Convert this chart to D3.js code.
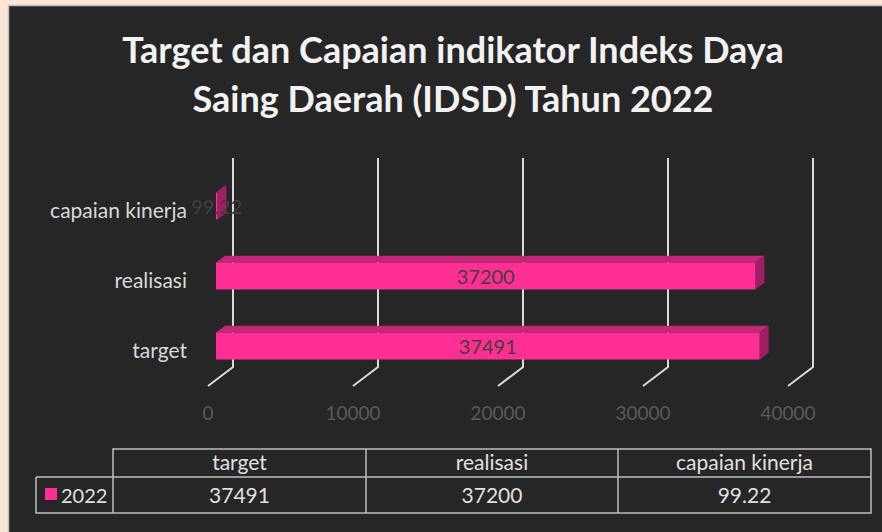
<!DOCTYPE html>
<html>
<head>
<meta charset="utf-8">
<script src="https://cdn.jsdelivr.net/npm/d3@7"></script>
<style>
  html, body { margin: 0; padding: 0; background: #FBE5D6; }
  svg { display: block; }
  text { font-family: Lato, "Open Sans", sans-serif; }
</style>
</head>
<body>
<div id="chart"></div>
<script>
// chart data
var categories = ["capaian kinerja", "realisasi", "target"];
var values = [99.22, 37200, 37491];
var tableCols = ["target", "realisasi", "capaian kinerja"];
var tableVals = ["37491", "37200", "99.22"];
var seriesName = "2022";
var xTicks = [0, 10000, 20000, 30000, 40000];
var titleLines = ["Target dan Capaian indikator Indeks Daya", "Saing Daerah (IDSD) Tahun 2022"];

var svgWidth = 882;
var svgHeight = 532;

// 3d depth of floor (front -> back)
var depthX = 25, depthY = -19;
var floorFrontX = 208;   // x of value 0 on the front floor edge
var floorFrontY = 386;
var barNear = 0.32, barFar = 0.68; // bar position inside depth
var barH = 27;

var pink = "#FF2E93", pinkTop = "#C42678", pinkSide = "#A01E63";

var svg = d3.select("#chart")
  .append("svg")
  .attr("width", svgWidth)
  .attr("height", svgHeight);

// chart area
svg.append("rect")
  .attr("x", 8.5).attr("y", 5.5)
  .attr("width", svgWidth).attr("height", svgHeight)
  .attr("fill", "#262626")
  .attr("stroke", "#BFBFBF")
  .attr("stroke-width", 1.5);

// title
svg.append("text")
  .attr("x", 453).attr("y", 63)
  .attr("text-anchor", "middle")
  .attr("fill", "#F2F2F2")
  .style("font-size", "36px")
  .style("font-weight", "bold")
  .selectAll("tspan")
  .data(titleLines)
  .enter()
  .append("tspan")
  .attr("x", 453)
  .attr("dy", (d, i) => i === 0 ? 0 : 49)
  .text(d => d);

var xScale = d3.scaleLinear()
  .domain([0, 40000])
  .range([0, 580]);

var yScale = d3.scalePoint()
  .domain(categories)
  .range([206, 346]);

// gridlines (back wall + floor diagonal)
var wallTop = 158;
var grid = svg.append("g");
xTicks.forEach(function(t) {
  var fx = floorFrontX + xScale(t);
  var bx = fx + depthX, by = floorFrontY + depthY;
  grid.append("path")
    .attr("d", `M${fx},${floorFrontY}L${bx},${by}L${bx},${wallTop}`)
    .attr("fill", "none")
    .attr("stroke", "#D9D9D9")
    .attr("stroke-width", 2);
});

// tick labels
svg.append("g").selectAll("text")
  .data(xTicks)
  .enter()
  .append("text")
  .attr("x", d => floorFrontX + xScale(d))
  .attr("y", 420)
  .attr("text-anchor", "middle")
  .attr("fill", "#595959")
  .style("font-size", "19px")
  .text(d => d);

// bars
var nx = depthX * barNear, ny = depthY * barNear;
var dx = depthX * (barFar - barNear), dy = depthY * (barFar - barNear);
var barData = categories.map((c, i) => ({ cat: c, value: values[i] }));

var bars = svg.append("g").selectAll("g")
  .data(barData)
  .enter()
  .append("g");

bars.each(function(d) {
  var g = d3.select(this);
  var x0 = floorFrontX + nx;
  var x1 = x0 + xScale(d.value);
  var y0 = yScale(d.cat) - barH / 2;
  var y1 = y0 + barH;
  // top face
  g.append("path")
    .attr("d", `M${x0},${y0}L${x0 + dx},${y0 + dy}L${x1 + dx},${y0 + dy}L${x1},${y0}Z`)
    .attr("fill", pinkTop);
  // side face
  g.append("path")
    .attr("d", `M${x1},${y0}L${x1 + dx},${y0 + dy}L${x1 + dx},${y1 + dy}L${x1},${y1}Z`)
    .attr("fill", pinkSide);
  // front face
  g.append("rect")
    .attr("x", x0).attr("y", y0)
    .attr("width", x1 - x0).attr("height", barH)
    .attr("fill", pink);
});

// category labels
svg.append("g").selectAll("text")
  .data(categories)
  .enter()
  .append("text")
  .attr("x", 187)
  .attr("y", d => yScale(d) + 12)
  .attr("text-anchor", "end")
  .attr("fill", "#D9D9D9")
  .style("font-size", "21px")
  .text(d => d);

// data labels
svg.append("g").selectAll("text")
  .data(barData)
  .enter()
  .append("text")
  .attr("x", d => floorFrontX + nx + xScale(d.value) / 2)
  .attr("y", d => yScale(d.cat) + 7.5)
  .attr("text-anchor", "middle")
  .attr("fill", "#404040")
  .style("font-size", "20px")
  .text(d => d.value);

// data table
var colX = [113, 366, 618, 871];
var headTop = 449, rowTop = 477, rowBot = 513, keyLeft = 36;
var table = svg.append("g")
  .attr("fill", "none")
  .attr("stroke", "#BFBFBF")
  .attr("stroke-width", 1.5);

table.append("path")
  .attr("d", `M${colX[0]},${rowBot}V${headTop}H${colX[3]}V${rowBot}Z` +
    `M${keyLeft},${rowTop}H${colX[3]}M${keyLeft},${rowTop}V${rowBot}H${colX[0]}` +
    `M${colX[1]},${headTop}V${rowBot}M${colX[2]},${headTop}V${rowBot}`);

var cols = svg.append("g");
tableCols.forEach(function(c, i) {
  var cx = (colX[i] + colX[i + 1]) / 2;
  cols.append("text")
    .attr("x", cx).attr("y", 470)
    .attr("text-anchor", "middle")
    .attr("fill", "#E0E0E0")
    .style("font-size", "21px")
    .text(c);
  cols.append("text")
    .attr("x", cx).attr("y", 503)
    .attr("text-anchor", "middle")
    .attr("fill", "#E0E0E0")
    .style("font-size", "21px")
    .text(tableVals[i]);
});

svg.append("rect")
  .attr("x", 45).attr("y", 488)
  .attr("width", 12).attr("height", 12)
  .attr("fill", pink);

svg.append("text")
  .attr("x", 61).attr("y", 503)
  .attr("fill", "#E0E0E0")
  .style("font-size", "20px")
  .text(seriesName);
</script>
</body>
</html>
